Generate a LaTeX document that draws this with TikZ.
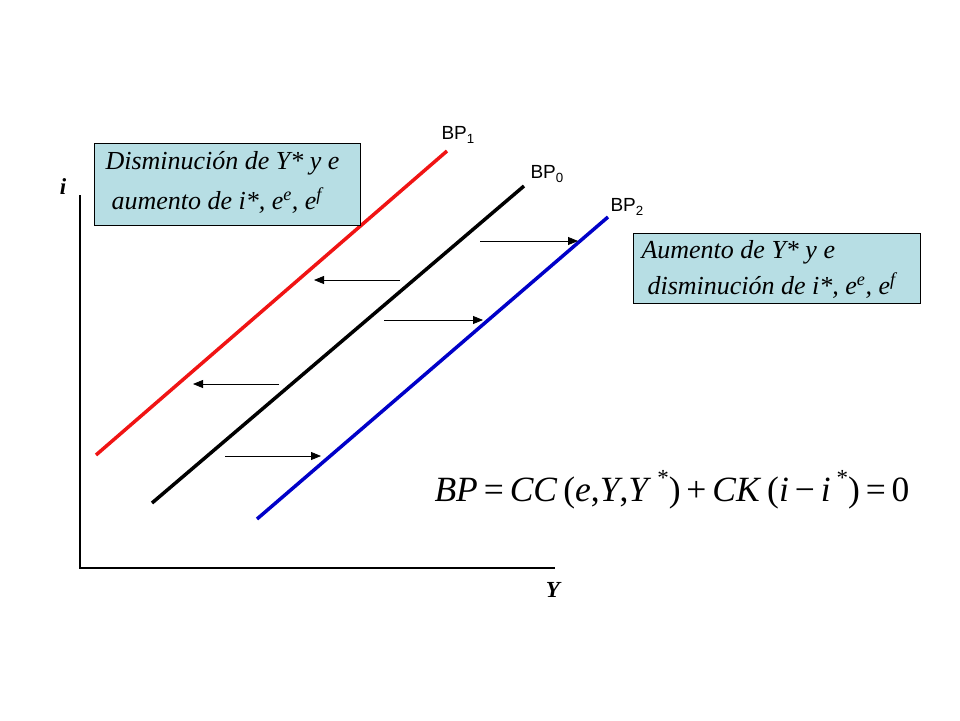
\documentclass[tikz,border=0pt]{standalone}
\usepackage{fontspec}
\setmainfont{Liberation Serif}
\newfontfamily\arialfont{Liberation Sans}
\usepackage{tikz}
\usetikzlibrary{arrows.meta}
\definecolor{boxfill}{RGB}{183,222,228}
\definecolor{bpred}{RGB}{240,20,20}
\definecolor{bpblue}{RGB}{0,0,200}

\begin{document}
\begin{tikzpicture}[x=1pt,y=-1pt,
		curve/.style={line width=3.5pt},
		shift arrow/.style={-{Triangle[length=10pt,width=8pt]},line width=0.8pt},
		textbox/.style={draw,line width=0.8pt,fill=boxfill,anchor=north west,inner sep=0pt},
		boxtext/.style={anchor=west,font=\fontsize{26}{28}\selectfont\itshape},
		bplabel/.style={font=\arialfont\fontsize{19}{22}\selectfont,anchor=west},
		axislabel/.style={font=\fontsize{23}{25}\selectfont\bfseries\itshape}]
		
		\useasboundingbox (0,0) rectangle (960,720);
		
		%axes
		\coordinate (top) at (80,195);
		\coordinate (origin) at (80,568);
		\coordinate (right) at (555,568);
		\draw[line width=2.8pt] (top) -- (origin) -- (right);
		\node[axislabel] (ilabel) at (63,187) {i};
		\node[axislabel] (ylabel) at (553,590) {Y};
		
		%BP curves
		\foreach \name/\farbe/\xa/\ya/\xb/\yb in {one/bpred/96/455/447/151, zero/black/152/503/524/186, two/bpblue/257/519/608/217}
		{
			\coordinate (\name start) at (\xa,\ya);
			\coordinate (\name end) at (\xb,\yb);
			\draw[curve,\farbe] (\name start) -- (\name end);
		}
		\node[bplabel] (bpone) at (438,135) {BP\textsubscript{1}};
		\node[bplabel] (bpzero) at (527,174) {BP\textsubscript{0}};
		\node[bplabel] (bptwo) at (607,207) {BP\textsubscript{2}};
		
		%shifts
		\foreach \i/\xa/\xb/\y in {1/480/578/241, 2/400/314/280, 3/384/483/320, 4/279/193/384, 5/225/321/456}
		{
			\coordinate (from\i) at (\xa,\y);
			\coordinate (to\i) at (\xb,\y);
			\draw[shift arrow] (from\i) -- (to\i);
		}
		
		%boxes
		\node[textbox,minimum width=266pt,minimum height=82pt] (leftbox) at (94,143) {};
		\node[boxtext] (lefttop) at (102,163) {Disminución de Y* y e};
		\node[boxtext] (leftbot) at (108,201) {aumento de i*, e\textsuperscript{e}, e\textsuperscript{f}};
		
		\node[textbox,minimum width=287pt,minimum height=70pt] (rightbox) at (633,233) {};
		\node[boxtext] (righttop) at (638,252) {Aumento de Y* y e};
		\node[boxtext] (rightbot) at (644,286) {disminución de i*, e\textsuperscript{e}, e\textsuperscript{f}};
		
		%equation
		\node (equation) at (672,490) {\fontsize{35.5}{40}\selectfont \textit{BP}\,=\,\textit{CC}\,(\textit{e},\textit{Y},\textit{Y}\,\raisebox{0.45em}{\fontsize{23}{26}\selectfont *})\,+\,\textit{CK}\,(\textit{i}\,−\,\textit{i}\,\raisebox{0.45em}{\fontsize{23}{26}\selectfont *})\,=\,0};
		
	\end{tikzpicture}
\end{document}
